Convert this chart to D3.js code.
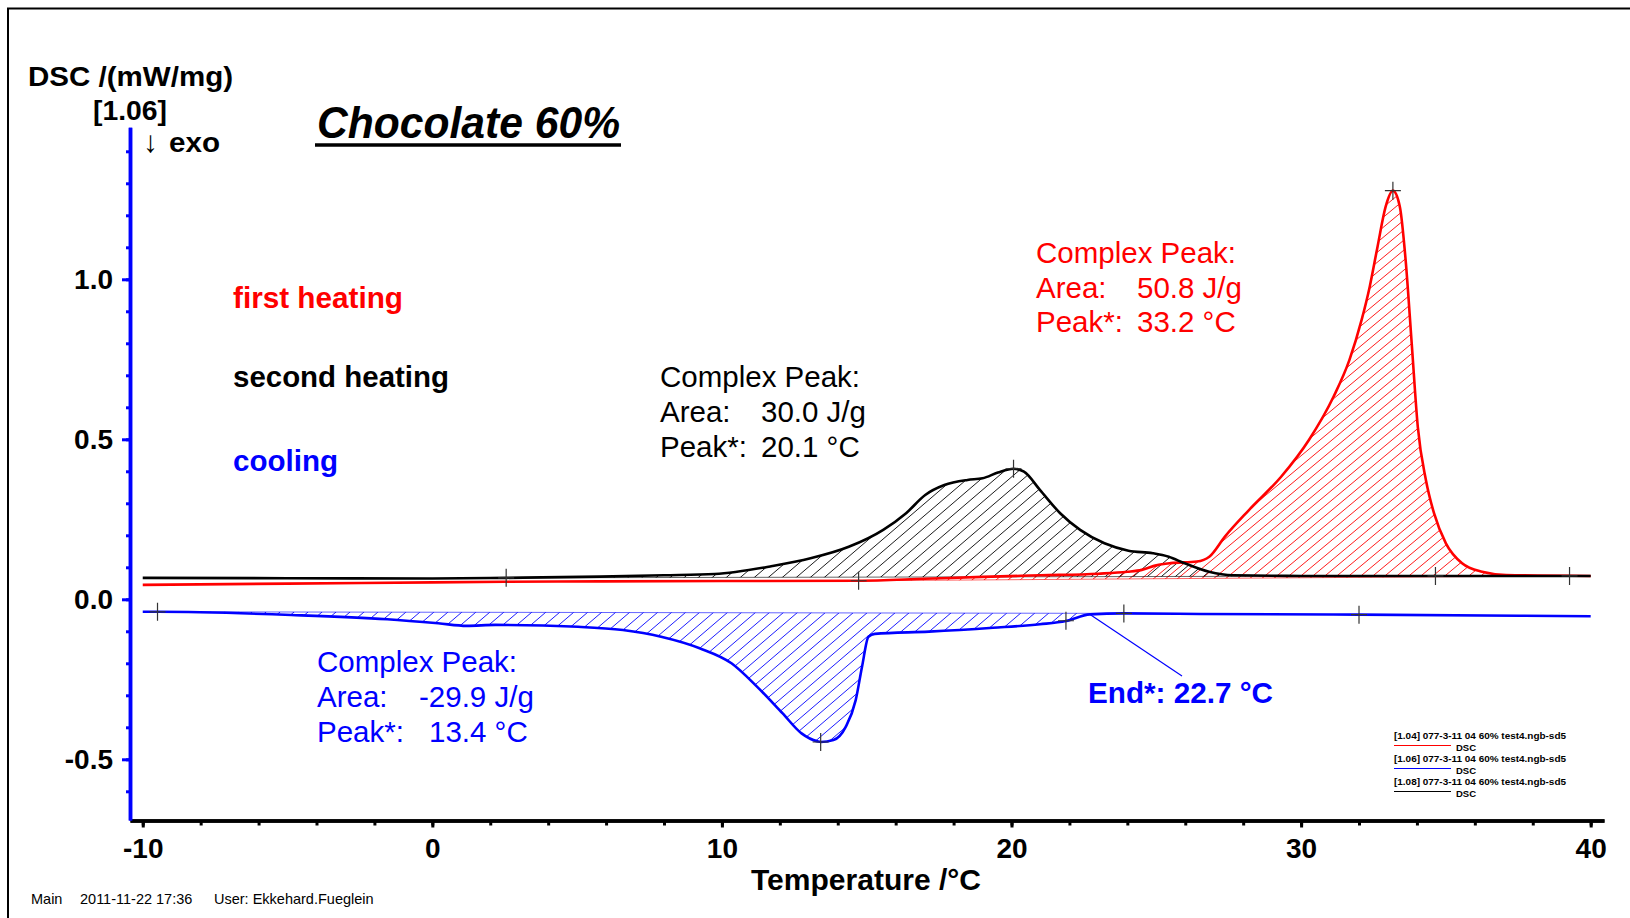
<!DOCTYPE html>
<html><head><meta charset="utf-8">
<script src="https://cdn.jsdelivr.net/npm/d3@7"></script>
<style>
html,body{margin:0;padding:0;background:#fff;}
svg{display:block;}
text{font-family:"Liberation Sans",Arial,Helvetica,sans-serif;}
</style></head>
<body>
<svg id="chart" width="1630" height="918"></svg>
<script>
// ---------- DATA ----------
// second heating (black)
const secondT = [-10,-5,0,2.55,5.79,8,9.75,11.74,13.06,14.38,15.57,16.36,17.02,17.68,18.48,19.0,19.53,20.07,20.43,20.98,21.68,22.37,23.21,24.04,24.88,25.43,25.98,26.82,27.65,30,35,40];
const secondV = [0.067,0.066,0.065,0.067,0.071,0.075,0.079,0.104,0.128,0.164,0.217,0.269,0.326,0.357,0.373,0.378,0.396,0.408,0.399,0.342,0.269,0.217,0.175,0.152,0.144,0.133,0.1125,0.086,0.075,0.073,0.073,0.073];
// first heating (red)
const firstT = [-10,-5,0,2.5,5.8,10,14.7,17,19,21,23,24,24.5,25,25.5,26.4,26.83,27.37,28.2,29.31,30.27,31.12,31.67,32.09,32.37,32.64,32.92,33.17,33.41,33.61,33.82,34.03,34.31,34.59,35.0,35.56,36.25,37.08,40];
const firstV = [0.045,0.049,0.053,0.055,0.056,0.057,0.058,0.064,0.070,0.075,0.080,0.086,0.092,0.106,0.113,0.118,0.133,0.196,0.279,0.383,0.498,0.633,0.748,0.873,0.977,1.102,1.227,1.277,1.227,1.06,0.80,0.539,0.373,0.269,0.175,0.1125,0.086,0.076,0.073];
// cooling (blue)
const coolT = [-10,-9.49,-4.87,-1.56,0.2,1.19,2.18,5.03,6.58,7.9,9.23,10.33,11.21,12.09,12.75,13.3,13.41,13.85,14.28,14.62,14.84,15.06,15.28,17.15,19.36,20.98,21.88,22.71,23.88,26.51,32,40];
const coolV = [-0.039,-0.039,-0.049,-0.0625,-0.075,-0.083,-0.080,-0.086,-0.096,-0.117,-0.153,-0.20,-0.273,-0.356,-0.419,-0.444,-0.446,-0.44,-0.398,-0.315,-0.21,-0.117,-0.108,-0.101,-0.089,-0.078,-0.068,-0.047,-0.044,-0.046,-0.048,-0.053];

// integration baselines [t0, v0, t1, v1]
const secondBase = [2.55,0.067,34.64,0.073];
const firstBase  = [14.72,0.058,39.27,0.073];
const coolBase   = [-9.49,-0.039,23.88,-0.044];

// marker points
const secondMarks = [[2.55,0.067],[20.07,0.408],[34.64,0.073]];
const firstMarks  = [[14.72,0.058],[33.17,1.277],[39.27,0.073]];
const coolMarks   = [[-9.49,-0.039],[13.41,-0.446],[21.88,-0.067],[23.88,-0.044],[32.0,-0.048]];
const endPoint = [22.7,-0.047];

const xMajor = [-10,0,10,20,30,40];
const xMinor = d3.range(-10,40.01,2);
const yMajor = [-0.5,0.0,0.5,1.0];
const yMinor = d3.range(-0.6,1.401,0.1).map(v=>+v.toFixed(1));

const legendRows = ["[1.04] 077-3-11 04 60% test4.ngb-sd5","[1.06] 077-3-11 04 60% test4.ngb-sd5","[1.08] 077-3-11 04 60% test4.ngb-sd5"];
const legendColors = ["#ff0000","#0000ff","#000000"];

// ---------- SCALES ----------
const svg = d3.select("#chart");
const x = d3.scaleLinear().domain([-10.44,40.46]).range([130,1604]);
const y = d3.scaleLinear().domain([-0.69,1.475]).range([820.1,127.3]);

svg.append("rect").attr("width",1630).attr("height",918).attr("fill","#fff");
// frame
svg.append("rect").attr("x",8).attr("y",8.5).attr("width",1700).attr("height",1000)
  .attr("fill","none").attr("stroke","#000").attr("stroke-width",2);

// ---------- hatch patterns ----------
const defs = svg.append("defs");
function hatch(id,color,w,h,sw){
  const p = defs.append("pattern").attr("id",id).attr("patternUnits","userSpaceOnUse")
    .attr("width",w).attr("height",h);
  p.append("path").attr("d",`M${-w},${h} L${w},${-h} M0,${h} L${w},0 M0,${2*h} L${2*w},0`)
    .attr("stroke",color).attr("stroke-width",sw).attr("fill","none");
}
hatch("hB","#000",14,12,0.9);
hatch("hR","#ff0000",12,10,0.9);
hatch("hC","#0000ff",14,12,0.9);

function interp(Ts,Vs,t){ return d3.scaleLinear().domain(Ts).range(Vs)(t); }
function hatchData(Ts,Vs,b){
  const [t0,v0,t1,v1]=b;
  const base = t=> v0+(v1-v0)*(t-t0)/(t1-t0);
  const pts=[[t0,interp(Ts,Vs,t0)]];
  Ts.forEach((t,i)=>{ if(t>t0 && t<t1) pts.push([t,Vs[i]]); });
  pts.push([t1,interp(Ts,Vs,t1)]);
  return pts.map(p=>({t:p[0],v:p[1],b:base(p[0])}));
}
const area = d3.area().x(d=>x(d.t)).y0(d=>y(d.b)).y1(d=>y(d.v)).curve(d3.curveMonotoneX);
const line = d3.line().x(d=>x(d[0])).y(d=>y(d[1])).curve(d3.curveMonotoneX);

const series = [
  {T:coolT,V:coolV,b:coolBase,pat:"hC",color:"#0000ff",marks:coolMarks},
  {T:firstT,V:firstV,b:firstBase,pat:"hR",color:"#ff0000",marks:firstMarks},
  {T:secondT,V:secondV,b:secondBase,pat:"hB",color:"#000000",marks:secondMarks}
];
series.forEach(s=>{
  svg.append("path").attr("d",area(hatchData(s.T,s.V,s.b))).attr("fill",`url(#${s.pat})`).attr("stroke","none");
});
series.forEach(s=>{
  svg.append("line").attr("x1",x(s.b[0])).attr("y1",y(s.b[1])).attr("x2",x(s.b[2])).attr("y2",y(s.b[3]))
    .attr("stroke",s.color).attr("stroke-width",1).attr("opacity",0.6);
});
series.forEach(s=>{
  svg.append("path").attr("d",line(s.T.map((t,i)=>[t,s.V[i]])))
    .attr("fill","none").attr("stroke",s.color).attr("stroke-width",2.6).attr("stroke-linejoin","round");
});
// markers
series.forEach(s=>{
  s.marks.forEach(m=>{
    const cx=x(m[0]), cy=y(m[1]);
    svg.append("path").attr("d",`M${cx-8},${cy} H${cx+8} M${cx},${cy-9} V${cy+9}`)
      .attr("stroke","#333").attr("stroke-width",1.2).attr("fill","none");
  });
});
// End leader line
svg.append("line").attr("x1",x(endPoint[0])).attr("y1",y(endPoint[1])).attr("x2",1182).attr("y2",676)
  .attr("stroke","#0000ff").attr("stroke-width",1.2);

// ---------- AXES ----------
const hy = s => s.replace("\u2212","-");
const xAxisMinor = d3.axisBottom(x).tickValues(xMinor).tickSize(5).tickSizeOuter(0).tickFormat("");
const xAxisMajor = d3.axisBottom(x).tickValues(xMajor).tickSize(7).tickSizeOuter(0).tickPadding(10.5).tickFormat(d=>hy(d3.format("d")(d)));
const gx1 = svg.append("g").attr("transform","translate(0,820.5)").call(xAxisMinor);
const gx2 = svg.append("g").attr("transform","translate(0,820.5)").call(xAxisMajor);
[gx1,gx2].forEach(g=>{
  g.select(".domain").attr("stroke","#000").attr("stroke-width",3.5);
  g.selectAll(".tick line").attr("stroke","#000").attr("stroke-width",3);
});
gx2.selectAll(".tick text").attr("font-size",28).attr("font-weight","bold").attr("fill","#000")
  .attr("font-family","'Liberation Sans',Arial,sans-serif");

const yAxisMinor = d3.axisLeft(y).tickValues(yMinor).tickSize(4).tickSizeOuter(0).tickFormat("");
const yAxisMajor = d3.axisLeft(y).tickValues(yMajor).tickSize(8).tickSizeOuter(0).tickPadding(9).tickFormat(d=>hy(d3.format(".1f")(d)));
const gy1 = svg.append("g").attr("transform","translate(130,0)").call(yAxisMinor);
const gy2 = svg.append("g").attr("transform","translate(130,0)").call(yAxisMajor);
[gy1,gy2].forEach(g=>{
  g.select(".domain").attr("stroke","#0000ff").attr("stroke-width",3.5);
  g.selectAll(".tick line").attr("stroke","#0000ff").attr("stroke-width",3);
});
gy2.selectAll(".tick text").attr("font-size",28).attr("font-weight","bold").attr("fill","#000")
  .attr("font-family","'Liberation Sans',Arial,sans-serif");

// ---------- TEXT ----------
function txt(s,xx,yy,opt={}){
  const t = svg.append("text").attr("x",xx).attr("y",yy).text(s)
    .attr("font-size",opt.size||29).attr("fill",opt.color||"#000")
    .attr("font-weight",opt.bold?"bold":"normal");
  if(opt.italic) t.attr("font-style","italic");
  if(opt.anchor) t.attr("text-anchor",opt.anchor);
  if(opt.len) t.attr("textLength",opt.len).attr("lengthAdjust","spacingAndGlyphs");
  if(opt.family) t.attr("font-family",opt.family);
  return t;
}
txt("DSC /(mW/mg)",28,86,{size:28,bold:true,len:205});
txt("[1.06]",93,119.5,{size:28,bold:true,len:74});
txt("↓",143,152,{size:30,family:"DejaVu Sans"});
txt("exo",169,152,{size:28,bold:true,len:51});
txt("Chocolate 60%",317,138,{size:44,bold:true,italic:true,len:303});
svg.append("line").attr("x1",315).attr("x2",621).attr("y1",145).attr("y2",145).attr("stroke","#000").attr("stroke-width",3.5);

txt("first heating",233,308,{size:29,bold:true,color:"#ff0000",len:170});
txt("second heating",233,387,{size:29,bold:true,len:216});
txt("cooling",233,471,{size:29,bold:true,color:"#0000ff",len:105});

// black annotation
txt("Complex Peak:",660,387,{size:29.5});
txt("Area:",660,422,{size:29.5});
txt("30.0 J/g",761,422,{size:29.5});
txt("Peak*:",660,456.5,{size:29.5});
txt("20.1 °C",761,456.5,{size:29.5});
// red annotation
txt("Complex Peak:",1036,263,{size:29.5,color:"#ff0000"});
txt("Area:",1036,297.5,{size:29.5,color:"#ff0000"});
txt("50.8 J/g",1137,297.5,{size:29.5,color:"#ff0000"});
txt("Peak*:",1036,332,{size:29.5,color:"#ff0000"});
txt("33.2 °C",1137,332,{size:29.5,color:"#ff0000"});
// blue annotation
txt("Complex Peak:",317,672,{size:29.5,color:"#0000ff"});
txt("Area:",317,707,{size:29.5,color:"#0000ff"});
txt("-29.9 J/g",419,707,{size:29.5,color:"#0000ff"});
txt("Peak*:",317,741.5,{size:29.5,color:"#0000ff"});
txt("13.4 °C",429,741.5,{size:29.5,color:"#0000ff"});
txt("End*: 22.7 °C",1088,703,{size:29.5,bold:true,color:"#0000ff",len:185});

txt("Temperature /°C",866,890,{size:29.5,bold:true,anchor:"middle",len:230});

// footer
txt("Main",31,904,{size:14.5});
txt("2011-11-22 17:36",80,904,{size:14.5});
txt("User: Ekkehard.Fueglein",214,904,{size:14.5});

// legend
legendRows.forEach((r,i)=>{
  const by = 738.5 + i*23;
  txt(r,1394,by,{size:9.5,bold:true,len:172});
  svg.append("line").attr("x1",1394).attr("x2",1451).attr("y1",by+7).attr("y2",by+7)
    .attr("stroke",legendColors[i]).attr("stroke-width",1.2);
  txt("DSC",1456,by+12,{size:9.5,bold:true});
});
</script>
</body></html>
